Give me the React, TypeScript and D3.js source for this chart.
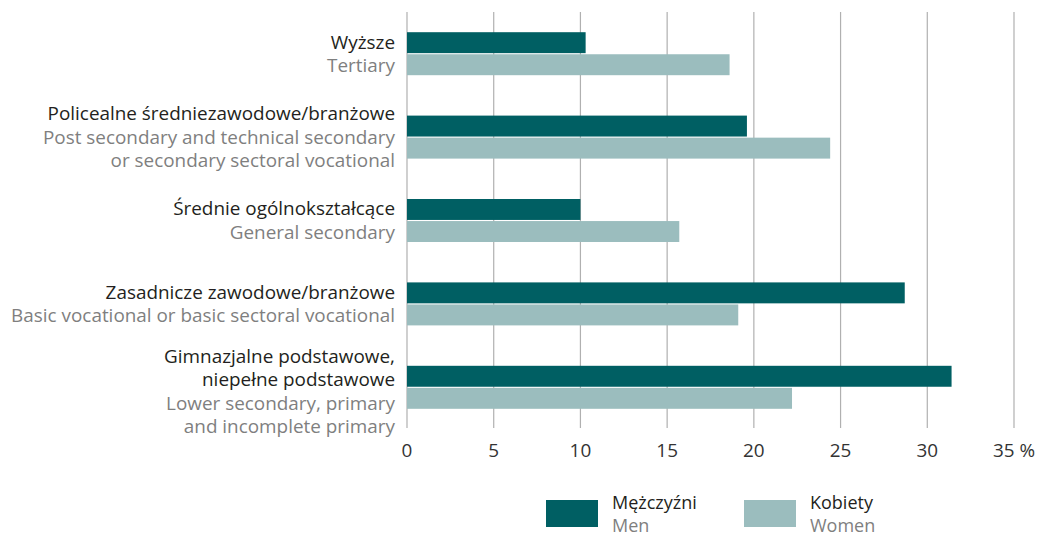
import React from 'react';
import * as d3 from 'd3';

const CATEGORIES_PL = [
  ['Wyższe'],
  ['Policealne średniezawodowe/branżowe'],
  ['Średnie ogólnokształcące'],
  ['Zasadnicze zawodowe/branżowe'],
  ['Gimnazjalne podstawowe,', 'niepełne podstawowe'],
];
const CATEGORIES_EN = [
  ['Tertiary'],
  ['Post secondary and technical secondary', 'or secondary sectoral vocational'],
  ['General secondary'],
  ['Basic vocational or basic sectoral vocational'],
  ['Lower secondary, primary', 'and incomplete primary'],
];
const MEN = [10.3, 19.6, 10.0, 28.7, 31.4];
const WOMEN = [18.6, 24.4, 15.7, 19.1, 22.2];
const TICKS = [0, 5, 10, 15, 20, 25, 30, 35];
const SERIES = [
  { pl: 'Mężczyźni', en: 'Men' },
  { pl: 'Kobiety', en: 'Women' },
];

const W = 1046;
const H = 537;
const DARK = '#005f63';
const LIGHT = '#9bbdbe';
const FONT = '"Open Sans", "Noto Sans", sans-serif';
const LINE_H = 23.5;
const FS = 18.9;

export default function App() {
  const x = d3.scaleLinear().domain([0, 35]).range([407, 1014]);
  const keys = CATEGORIES_PL.map((_, i) => String(i));
  const y = d3.scaleBand().domain(keys).range([12, 429]);
  const inner = d3.scaleBand().domain(['men', 'women']).range([-21.5, 21.5]).paddingInner(0.05);

  return (
    <svg width={W} height={H} style={{ position: 'absolute', left: 0, top: 0 }} fontFamily={FONT}>
      {TICKS.map((t) => (
        <g key={t}>
          <line x1={x(t)} x2={x(t)} y1={12} y2={428} stroke="#b0b0b0" strokeWidth={1.2} />
          <text x={x(t)} y={450} dy="0.35em" textAnchor="middle" fontSize={FS} fill="#333">
            {t === 35 ? '35 %' : t}
          </text>
        </g>
      ))}
      {keys.map((k, i) => {
        const cy = (y(k) as number) + y.bandwidth() / 2;
        const lines = [
          ...CATEGORIES_PL[i].map((s) => ({ s, c: '#231f20' })),
          ...CATEGORIES_EN[i].map((s) => ({ s, c: '#7f7f7f' })),
        ];
        const top = cy - ((lines.length - 1) * LINE_H) / 2 + (i === 4 ? 4 : 0);
        return (
          <g key={k}>
            <rect x={x(0)} y={cy + (inner('men') as number)} width={x(MEN[i]) - x(0)} height={inner.bandwidth()} fill={DARK} />
            <rect x={x(0)} y={cy + (inner('women') as number)} width={x(WOMEN[i]) - x(0)} height={inner.bandwidth()} fill={LIGHT} />
            {lines.map((l, j) => (
              <text key={j} x={395} y={top + j * LINE_H} dy="0.35em" textAnchor="end" fontSize={FS} fill={l.c}>
                {l.s}
              </text>
            ))}
          </g>
        );
      })}
      {SERIES.map((s, i) => {
        const lx = 546 + i * 198;
        return (
          <g key={s.pl}>
            <rect x={lx} y={500} width={52} height={27} fill={i === 0 ? DARK : LIGHT} />
            <text x={lx + 66} y={503} dy="0.35em" fontSize={18} fill="#231f20">{s.pl}</text>
            <text x={lx + 66} y={526} dy="0.35em" fontSize={18} fill="#7f7f7f">{s.en}</text>
          </g>
        );
      })}
    </svg>
  );
}
